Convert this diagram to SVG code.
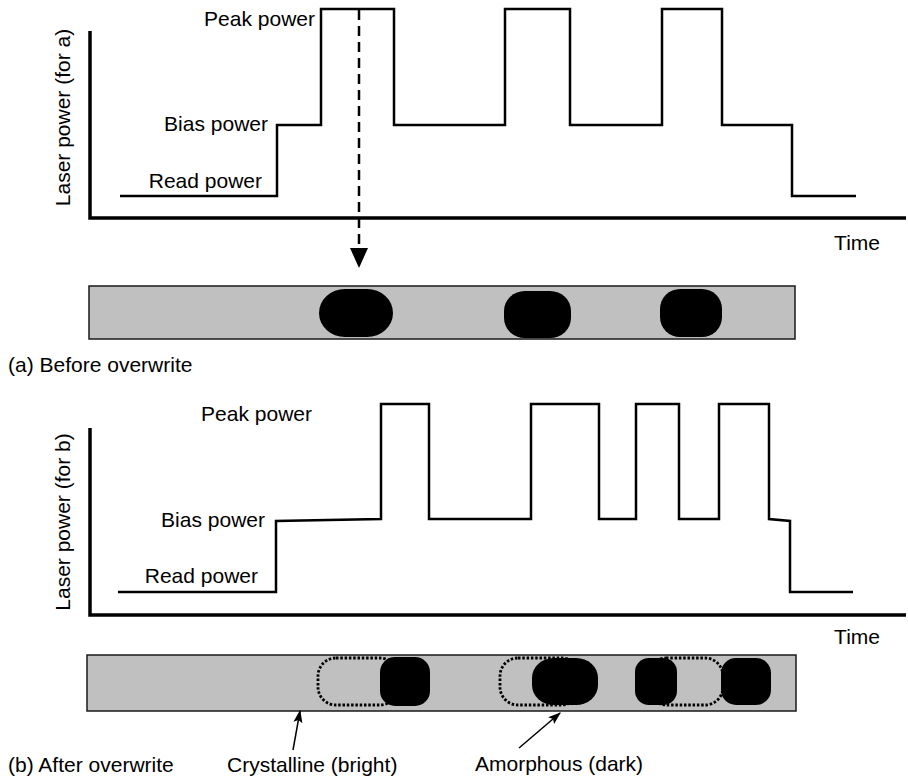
<svg xmlns="http://www.w3.org/2000/svg" width="908" height="782" viewBox="0 0 908 782">
<defs>
<style>
text{font-family:"Liberation Sans",Arial,sans-serif;font-size:21px;fill:#000}
.axis{fill:none;stroke:#000;stroke-width:3.5}
.wave{fill:none;stroke:#000;stroke-width:2.5;stroke-linejoin:miter}
.band{fill:#c0c0c0;stroke:#1a1a1a;stroke-width:1.5}
.mark{fill:#000}
.old{fill:none;stroke:#000;stroke-width:2.8;stroke-dasharray:2.5 1.8}
.ptr{fill:none;stroke:#000;stroke-width:1.5}
</style>
<marker id="ahs" viewBox="0 0 10 10" refX="9" refY="5" markerWidth="13" markerHeight="13" markerUnits="userSpaceOnUse" orient="auto">
<path d="M0,1.5 L10,5 L0,8.5 L2,5 z" fill="#000"/>
</marker>
</defs>

<g id="graph-a">
<path class="axis" d="M90,31 V218 H906"/>
<path class="wave" d="M120,196 H277 V125 H321 V9 H394 V125 H505 V9 H570 V125 H662 V9 H722 V125 H792 V196 H856"/>
<text x="315" y="26" text-anchor="end">Peak power</text>
<text x="268" y="131" text-anchor="end">Bias power</text>
<text x="262" y="188" text-anchor="end">Read power</text>
<text x="880" y="250" text-anchor="end">Time</text>
<text transform="translate(70,117.5) rotate(-90)" text-anchor="middle">Laser power (for a)</text>
</g>

<g id="band-a">
<rect class="band" x="89" y="286" width="706" height="53"/>
<rect class="mark" x="319" y="289" width="74" height="48" rx="26" ry="24"/>
<rect class="mark" x="504" y="291" width="67" height="47" rx="21" ry="20"/>
<rect class="mark" x="660" y="289" width="62" height="48" rx="20" ry="20"/>
<text x="8" y="372">(a) Before overwrite</text>
</g>

<g id="graph-b">
<path class="axis" d="M90,428 V615 H906"/>
<path class="wave" d="M118,592 H276 V521 L381,519 V404 H429 V519 H531 V404 H599 V519 H636 V404 H679 V519 H719 V404 H769 V519 L790,521 V592 H853"/>
<text x="312" y="421" text-anchor="end">Peak power</text>
<text x="265" y="527" text-anchor="end">Bias power</text>
<text x="258" y="583" text-anchor="end">Read power</text>
<text x="880" y="644" text-anchor="end">Time</text>
<text transform="translate(70,522) rotate(-90)" text-anchor="middle">Laser power (for b)</text>
</g>

<g id="band-b">
<rect class="band" x="87" y="655" width="709" height="56"/>
<rect class="old" x="318" y="658" width="80" height="47" rx="18" ry="18"/>
<rect class="old" x="500" y="658" width="80" height="47" rx="18" ry="18"/>
<rect class="old" x="648" y="658" width="75" height="47" rx="18" ry="18"/>
<rect class="mark" x="380" y="657" width="50" height="49" rx="15" ry="15"/>
<rect class="mark" x="532" y="658" width="66" height="47" rx="22" ry="20"/>
<rect class="mark" x="635" y="658" width="42" height="47" rx="14" ry="14"/>
<rect class="mark" x="721" y="658" width="50" height="47" rx="15" ry="15"/>
<text x="8" y="772">(b) After overwrite</text>
<text x="227" y="772">Crystalline (bright)</text>
<text x="475" y="771">Amorphous (dark)</text>
</g>

<g id="connectors">
<line x1="359" y1="10" x2="359" y2="250" stroke="#000" stroke-width="2.5" stroke-dasharray="10 6"/>
<polygon points="350,248 368,248 359,268" fill="#000"/>
<line class="ptr" x1="293" y1="750" x2="300" y2="711" marker-end="url(#ahs)"/>
<line class="ptr" x1="519" y1="748" x2="560" y2="713" marker-end="url(#ahs)"/>
</g>
</svg>
